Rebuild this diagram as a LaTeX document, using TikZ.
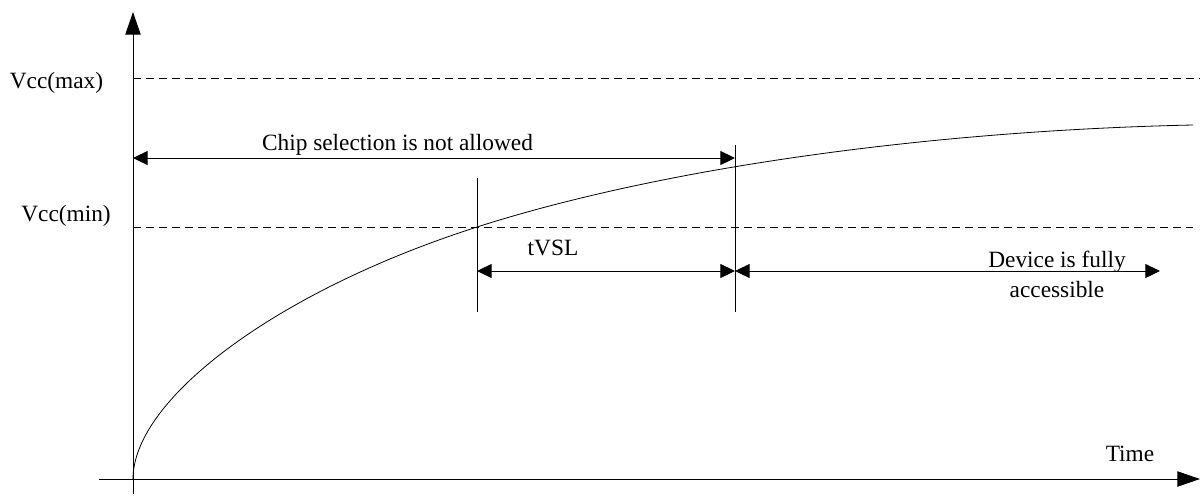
\documentclass[tikz,border=0pt]{standalone}
\usepackage{fontspec}
\setmainfont{Liberation Serif}
\usetikzlibrary{arrows.meta}

\tikzset{every picture/.style={line width=0.75pt}}
\tikzset{
  axisarrow/.style={-{Triangle[length=17pt,width=11.5pt]}},
  dimarrow/.style={{Triangle[length=11pt,width=10.5pt]}-{Triangle[length=11pt,width=10.5pt]}},
  startarrow/.style={{Triangle[length=11pt,width=10.5pt]}-{Triangle[length=11pt,width=10.5pt]}},
  levelline/.style={dash pattern=on 6pt off 3.75pt, line width=0.6pt},
  marker/.style={line width=0.6pt},
  label/.style={font=\fontsize{17.5}{22.5}\selectfont, anchor=base, inner sep=0pt}
}

\begin{document}
\begin{tikzpicture}[x=0.75pt,y=0.75pt,yscale=-1,xscale=1]
		\useasboundingbox (0,0) rectangle (1203,497);

		%Coordinates
		\coordinate (O) at (133,479);
		\coordinate (ybot) at (133,494);
		\coordinate (ytop) at (133,12);
		\coordinate (xleft) at (99,479);
		\coordinate (xright) at (1200,479);
		\coordinate (maxL) at (133,78);
		\coordinate (maxR) at (1200,78);
		\coordinate (minL) at (133,227);
		\coordinate (minR) at (1193,227);
		\coordinate (chipL) at (133,158);
		\coordinate (chipR) at (735,158);
		\coordinate (m1top) at (477,178);
		\coordinate (m1bot) at (477,312);
		\coordinate (m2top) at (735,145);
		\coordinate (m2bot) at (735,312);
		\coordinate (tvslL) at (477,271);
		\coordinate (tvslR) at (735,271);
		\coordinate (devR) at (1160,271);
		\coordinate (cross) at (477,227);
		\coordinate (cend) at (1193,125);

		%Axes
		\draw [axisarrow] (ybot) -- (ytop) ;
		\draw [axisarrow] (xleft) -- (xright) ;
		%Dashed Lines
		\draw [levelline] (maxL) -- (maxR) ;
		\draw [levelline] (minL) -- (minR) ;
		%Straight Lines
		\draw [marker] (m1top) -- (m1bot) ;
		\draw [marker] (m2top) -- (m2bot) ;
		%Arrows
		\draw [dimarrow] (chipL) -- (chipR) ;
		\draw [dimarrow] (tvslL) -- (tvslR) ;
		\draw [startarrow] (tvslR) -- (devR) ;
		%Curve
		\draw [line width=0.6pt] (O) .. controls (133,399) and (277,291) .. (cross) .. controls (677,163) and (953,130) .. (cend) ;

		% Text Node
		\draw (56.5,88) node [label] (vmax) {Vcc(max)};
		% Text Node
		\draw (66,221) node [label] (vmin) {Vcc(min)};
		% Text Node
		\draw (397.5,150) node [label] (chip) {Chip selection is not allowed};
		% Text Node
		\draw (553,255) node [label] (tvsl) {tVSL};
		% Text Node
		\draw (1057,297) node [label, align=center] (device) {Device is fully\\accessible};
		% Text Node
		\draw (1130,461) node [label] (time) {Time};

		\end{tikzpicture}
\end{document}
